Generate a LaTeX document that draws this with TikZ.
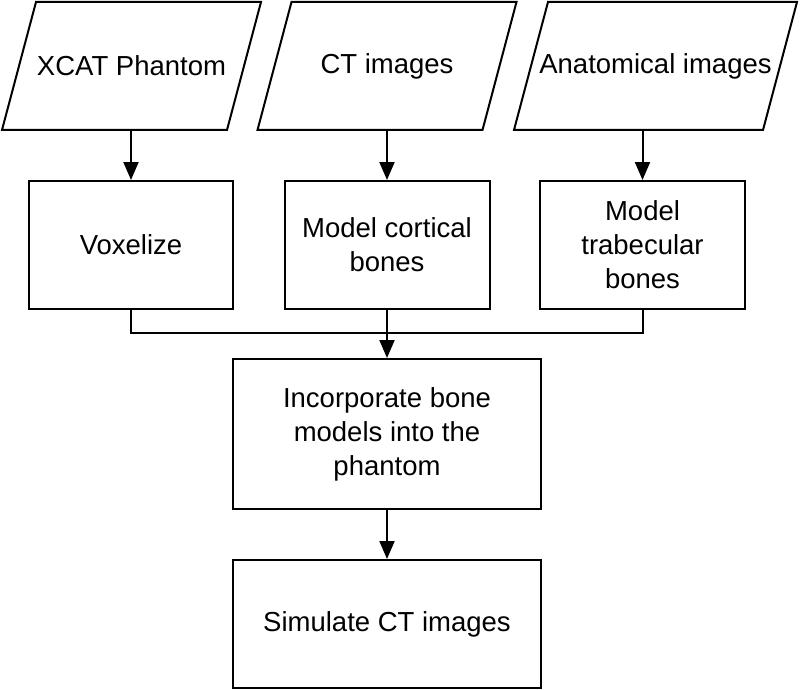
\documentclass[tikz,border=0pt]{standalone}
\usepackage{fontspec}
\setmainfont{Liberation Sans}
\usetikzlibrary{arrows.meta}
\begin{document}
\begin{tikzpicture}[x=1pt,y=-1pt,
  line width=2pt,
  txt/.style={font=\fontsize{27.5}{34}\selectfont, align=center, inner sep=0pt},
  box/.style={txt, draw, minimum width=#1},
  iobox/.style={txt, minimum width=#1, minimum height=126pt},
  arr/.style={-{Triangle[length=18pt,width=15pt]}}]
\useasboundingbox (0,0) rectangle (800,690);
% input parallelograms (text nodes, outlines drawn from their corners)
\node[iobox=223pt] (p1) at (131.5,66) {XCAT Phantom};
\node[iobox=223pt] (p2) at (387,66) {CT images};
\node[iobox=247pt] (p3) at (655.5,66) {Anatomical images};
\foreach \p in {p1,p2,p3}{
  \draw[line join=miter] ([xshift=17pt]\p.north west) -- ([xshift=17pt]\p.north east)
     -- ([xshift=-17pt]\p.south east) -- ([xshift=-17pt]\p.south west) -- cycle;
}
% process boxes
\node[box=204pt, minimum height=128pt] (v) at (131,245) {Voxelize};
\node[box=205pt, minimum height=128pt] (c) at (387,245) {Model cortical\\bones};
\node[box=205pt, minimum height=128pt] (t) at (642.5,245) {Model\\trabecular\\bones};
\node[box=308pt, minimum height=150pt] (inc) at (387,434) {Incorporate bone\\models into the\\phantom};
\node[box=308pt, minimum height=128pt] (sim) at (387,624) {Simulate CT images};
% connectors
\draw[arr] (p1.south -| v.north) -- (v.north);
\draw[arr] (p2.south -| c.north) -- (c.north);
\draw[arr] (p3.south -| t.north) -- (t.north);
\coordinate (j) at (387,333);
\draw (v.south) |- (j);
\draw (t.south) |- (j);
\draw[arr] (c.south) -- (inc.north -| c.south);
\draw[arr] (inc.south) -- (sim.north);
\end{tikzpicture}
\end{document}
